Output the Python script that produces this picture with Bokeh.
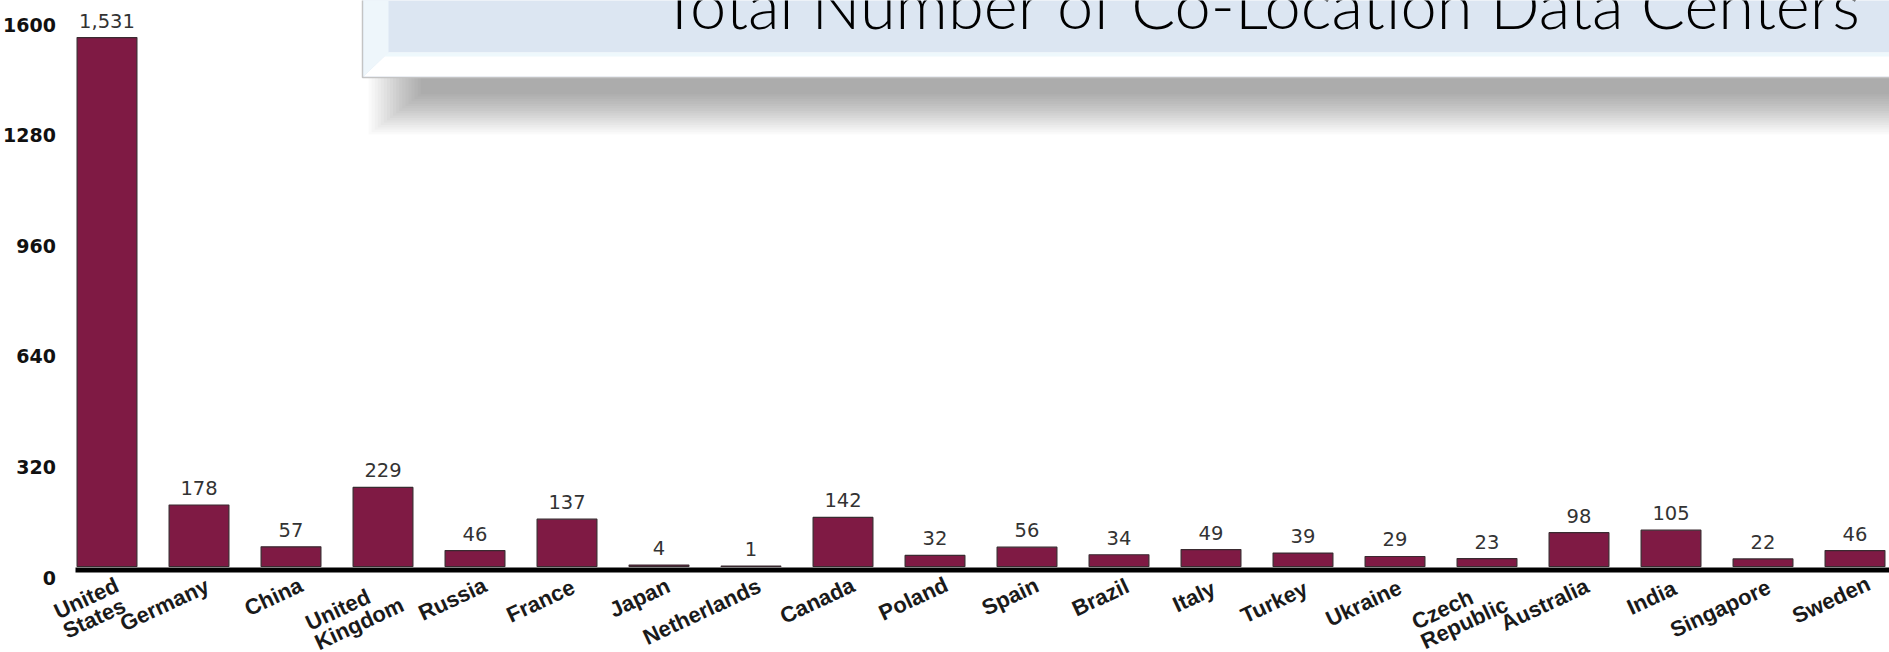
import math
from bokeh.plotting import figure
from bokeh.models import Range1d
from bokeh.core.properties import value
from bokeh.embed import file_html
from bokeh.resources import INLINE

# ---- data -------------------------------------------------------------
countries = ["United\nStates", "Germany", "China", "United\nKingdom", "Russia",
             "France", "Japan", "Netherlands", "Canada", "Poland", "Spain",
             "Brazil", "Italy", "Turkey", "Ukraine", "Czech\nRepublic",
             "Australia", "India", "Singapore", "Sweden"]
centers = [1531, 178, 57, 229, 46, 137, 4, 1, 142, 32, 56, 34, 49, 39, 29,
           23, 98, 105, 22, 46]
y_ticks = [0, 320, 640, 960, 1280, 1600]
title_text = "Total Number of Co-Location Data Centers"

# ---- canvas geometry (pixels) -----------------------------------------
W_PX, H_PX = 1889, 652
X0_PX = 106.5      # pixel centre of the first category
STEP_PX = 92.0     # pixels per category
Y0_PX = 566.0      # pixel row of value 0
K_PX = 0.3455      # pixels per data-centre unit


def sx(px):
    return (px - X0_PX) / STEP_PX


def sy(py):
    return (Y0_PX - py) / K_PX


p = figure(width=W_PX, height=H_PX, output_backend="svg", toolbar_location=None,
           x_range=Range1d(sx(0), sx(W_PX)), y_range=Range1d(sy(H_PX), sy(0)),
           min_border=0, min_border_left=0, min_border_right=0,
           min_border_top=0, min_border_bottom=0, title=None)
p.axis.visible = False
p.grid.visible = False
p.outline_line_color = None
p.background_fill_color = "white"
p.border_fill_color = "white"

# ---- title banner with drop shadow ------------------------------------
BOX_L, BOX_R, BOX_B = 362, 1905, 77
n_sh = 18
sh_left, sh_right, sh_top, sh_bottom = [], [], [], []
for i in range(n_sh):
    f = i / (n_sh - 1)
    sh_left.append(sx(420 - 52 * f))
    sh_right.append(sx(BOX_R))
    sh_top.append(sy(BOX_B))
    sh_bottom.append(sy(94 + 40 * f))
p.quad(left=sh_left, right=sh_right, top=sh_top, bottom=sh_bottom,
       fill_color="black", fill_alpha=0.021, line_color=None)

p.quad(left=[sx(BOX_L)], right=[sx(BOX_R)], top=[sy(-5)], bottom=[sy(BOX_B)],
       fill_color="#DCE6F2", line_color="#C4C4C4", line_width=1.5)
# bevel: bottom strip and left strip
p.patch(x=[sx(BOX_L + 1), sx(BOX_R), sx(BOX_R), sx(388)],
        y=[sy(BOX_B - 1), sy(BOX_B - 1), sy(52), sy(52)],
        fill_color="#FFFFFF", line_color=None)
p.patch(x=[sx(388), sx(BOX_R), sx(BOX_R), sx(384)],
        y=[sy(52), sy(52), sy(56), sy(56)],
        fill_color="#EEF8FC", line_color=None)
p.patch(x=[sx(BOX_L + 1), sx(388), sx(388), sx(BOX_L + 1)],
        y=[sy(-5), sy(-5), sy(52), sy(BOX_B - 1)],
        fill_color="#EEF6FB", line_color=None)

p.text(x=[sx(1862)], y=[sy(3.6)], text=[title_text], text_align="right",
       text_baseline="alphabetic", text_font=value("Lato Light"),
       text_font_size="65px", text_color="#000000")

# ---- bars ---------------------------------------------------------------
idx = list(range(len(countries)))
p.vbar(x=idx, top=centers, bottom=0, width=0.65, fill_color="#7F1A44",
       line_color="#3A2A30", line_width=1.2)

# baseline
p.segment(x0=[sx(75)], y0=[sy(569.5)], x1=[sx(W_PX)], y1=[sy(569.5)],
          line_color="#000000", line_width=5)

# value labels
p.text(x=idx, y=centers, text=[f"{v:,}" for v in centers], text_align="center",
       text_baseline="alphabetic", y_offset=-17, text_font=value("DejaVu Sans"),
       text_font_size="19.5px", text_color="#333333")

# y tick labels
p.text(x=[sx(60.5)] * len(y_ticks), y=y_ticks, text=[str(t) for t in y_ticks],
       text_align="right", text_baseline="middle", x_offset=-5, y_offset=11,
       text_font=value("DejaVu Sans"), text_font_style="bold",
       text_font_size="19px", text_color="#111111")

# ---- category labels ----------------------------------------------------
# Slanted, left-aligned blocks whose upper-right corner sits just right of
# the bar centre.  Line lengths come from Liberation Sans Bold advances.
ADV = {"U": 722, "n": 611, "i": 278, "t": 333, "e": 556, "d": 611, "S": 667,
       "a": 556, "s": 556, "K": 722, "g": 611, "o": 611, "m": 889, "C": 722,
       "z": 500, "c": 556, "h": 611, "R": 722, "p": 611, "u": 611, "b": 611,
       "l": 278}
FS = 22.0
ANG = math.radians(25)
LINE_H = 21.5
ANCHOR_DX = 5.0
LABEL_TOP_PX = 572.0


def text_len(s):
    return sum(ADV.get(ch, 600) for ch in s) / 1000.0 * FS


lab_x, lab_y, lab_text = [], [], []
for i, name in enumerate(countries):
    lines = name.split("\n")
    lmax = max(text_len(s) for s in lines)
    # pixel offset of the first line's start from the block's upper-right corner
    dx0 = ANCHOR_DX - lmax * math.cos(ANG)
    dy0 = lmax * math.sin(ANG)
    for k, s in enumerate(lines):
        dx = dx0 + k * LINE_H * math.sin(ANG)
        dy = dy0 + k * LINE_H * math.cos(ANG)
        lab_x.append(i + dx / STEP_PX)
        lab_y.append(sy(LABEL_TOP_PX + dy))
        lab_text.append(s)

p.text(x=lab_x, y=lab_y, text=lab_text, angle=ANG,
       text_align="left", text_baseline="top",
       text_font=value("Liberation Sans"), text_font_style="bold",
       text_font_size=f"{FS:g}px", text_color="#1A1A1A")

open("out.html", "w").write(file_html(p, INLINE))
